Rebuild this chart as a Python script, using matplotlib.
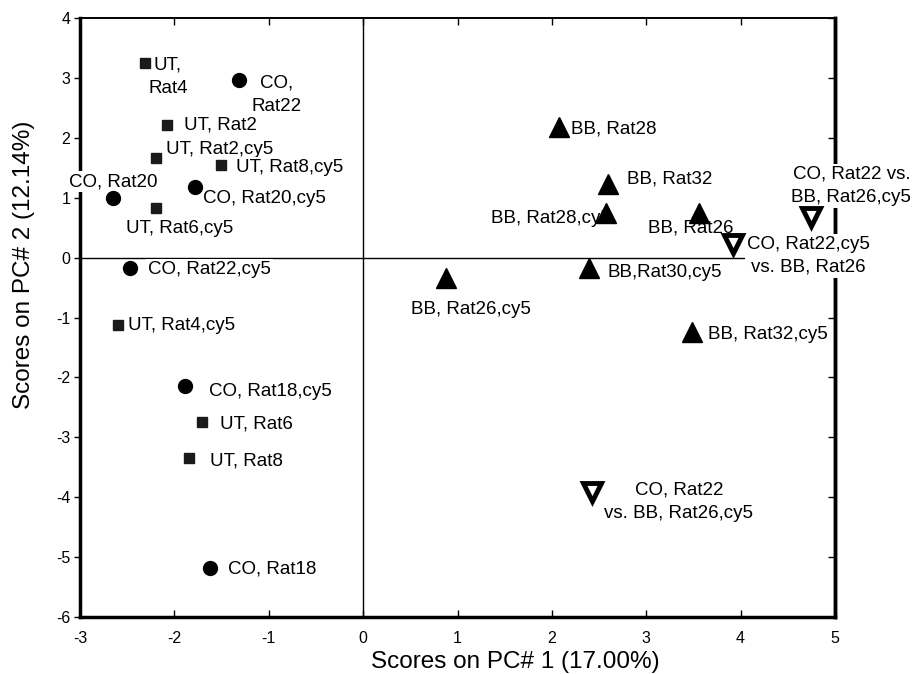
import numpy as np
import matplotlib
matplotlib.use('Agg')
import matplotlib.pyplot as plt

plt.rcParams['font.family'] = ['Liberation Sans', 'DejaVu Sans']
plt.rcParams['axes.unicode_minus'] = False

# PCA scores
co_x = [-1.32, -2.65, -1.78, -2.47, -1.89, -1.62]
co_y = [2.97, 1.00, 1.18, -0.18, -2.15, -5.18]
co_lab = ['CO,\nRat22', 'CO, Rat20', 'CO, Rat20,cy5', 'CO, Rat22,cy5',
          'CO, Rat18,cy5', 'CO, Rat18']

ut_x = [-2.31, -2.08, -2.19, -1.51, -2.19, -2.60, -1.71, -1.85]
ut_y = [3.25, 2.22, 1.67, 1.55, 0.83, -1.12, -2.75, -3.35]
ut_lab = ['UT,\nRat4', 'UT, Rat2', 'UT, Rat2,cy5', 'UT, Rat8,cy5',
          'UT, Rat6,cy5', 'UT, Rat4,cy5', 'UT, Rat6', 'UT, Rat8']

bb_x = [2.08, 2.59, 2.57, 3.56, 2.39, 0.88, 3.48]
bb_y = [2.18, 1.23, 0.74, 0.74, -0.17, -0.34, -1.24]
bb_lab = ['BB, Rat28', 'BB, Rat32', 'BB, Rat28,cy5', 'BB, Rat26',
          'BB,Rat30,cy5', 'BB, Rat26,cy5', 'BB, Rat32,cy5']

vs_x = [3.92, 4.75, 2.43]
vs_y = [0.23, 0.68, -3.91]
vs_lab = ['CO, Rat22,cy5\nvs. BB, Rat26', 'CO, Rat22 vs.\nBB, Rat26,cy5',
          'CO, Rat22\nvs. BB, Rat26,cy5']

xticks = [-3, -2, -1, 0, 1, 2, 3, 4, 5]
yticks = [4, 3, 2, 1, 0, -1, -2, -3, -4, -5, -6]

# label offsets in pixels (dx, dy up) and alignment
co_off = [((13, -15), 'left'), ((0, 16), 'center'), ((8, -12), 'left'),
          ((18, -1), 'left'), ((24, -5), 'left'), ((18, -1), 'left')]
ut_off = [((3, -14), 'left'), ((17, 0), 'left'), ((10, 8), 'left'),
          ((15, -3), 'left'), ((23, -21), 'center'), ((10, -1), 'left'),
          ((18, -2), 'left'), ((21, -3), 'left')]
bb_off = [((12, -2), 'left'), ((19, 5), 'left'), ((5, -5), 'right'),
          ((-8, -15), 'center'), ((19, -5), 'left'), ((25, -32), 'center'),
          ((16, -3), 'left')]
vs_off = [((14, -12), 'left'), ((40, 31), 'center'), ((12, -10), 'left')]

fig = plt.figure(figsize=(9.15, 6.74), dpi=100)
ax = fig.add_axes((80/915., 57/674., 755/915., 599/674.))

ax.axhline(0, color='k', lw=1.0, zorder=1)
ax.axvline(0, color='k', lw=1.0, zorder=1)

ax.plot(co_x, co_y, 'o', color='k', ms=10, zorder=5, clip_on=False)
ax.plot(ut_x, ut_y, 's', color='#1a1a1a', ms=7, zorder=5, clip_on=False)
ax.plot(bb_x, bb_y, '^', color='k', ms=14, zorder=5, clip_on=False)
ax.plot(vs_x, vs_y, 'v', mfc='white', mec='k', mew=3.5, ms=13, zorder=5, clip_on=False)

px = 0.72  # points per pixel at 100 dpi
def put(xs, ys, labs, offs):
    for xv, yv, lab, ((dx, dy), ha) in zip(xs, ys, labs, offs):
        ax.annotate(lab, (xv, yv), xytext=(dx*px, dy*px), textcoords='offset points',
                    ha=ha, va='center', multialignment='center', fontsize=13.5,
                    linespacing=1.45, zorder=4, annotation_clip=False,
                    bbox=dict(boxstyle='square,pad=0.1', fc='white', ec='none'))

put(co_x, co_y, co_lab, co_off)
put(ut_x, ut_y, ut_lab, ut_off)
put(bb_x, bb_y, bb_lab, bb_off)
put(vs_x, vs_y, vs_lab, vs_off)

ax.set_xlim(-3, 5)
ax.set_ylim(-6, 4)
ax.set_xticks(xticks)
ax.set_yticks(yticks)
ax.tick_params(axis='y', direction='out', length=4, width=1, labelsize=11.5, pad=3)
ax.tick_params(axis='x', direction='in', length=5, width=1, labelsize=11.5, pad=10)

# inward ticks on top and right, no labels
top = ax.secondary_xaxis('top')
top.set_xticks(xticks)
top.tick_params(direction='in', length=5, width=1, labeltop=False)
right = ax.secondary_yaxis('right')
right.set_yticks(yticks)
right.tick_params(direction='in', length=5, width=1, labelright=False)
for s in top.spines.values():
    s.set_linewidth(1.2)
for s in right.spines.values():
    s.set_linewidth(2.5)

for side in ['left', 'bottom', 'right']:
    ax.spines[side].set_linewidth(2.5)
ax.spines['top'].set_linewidth(1.2)

ax.set_xlabel('Scores on PC# 1 (17.00%)', fontsize=17.5)
ax.set_ylabel('Scores on PC# 2 (12.14%)', fontsize=17.5)
ax.xaxis.set_label_coords(0.576, -0.057)
ax.yaxis.set_label_coords(-0.06, 0.588)

fig.savefig('out.png', dpi=100)
